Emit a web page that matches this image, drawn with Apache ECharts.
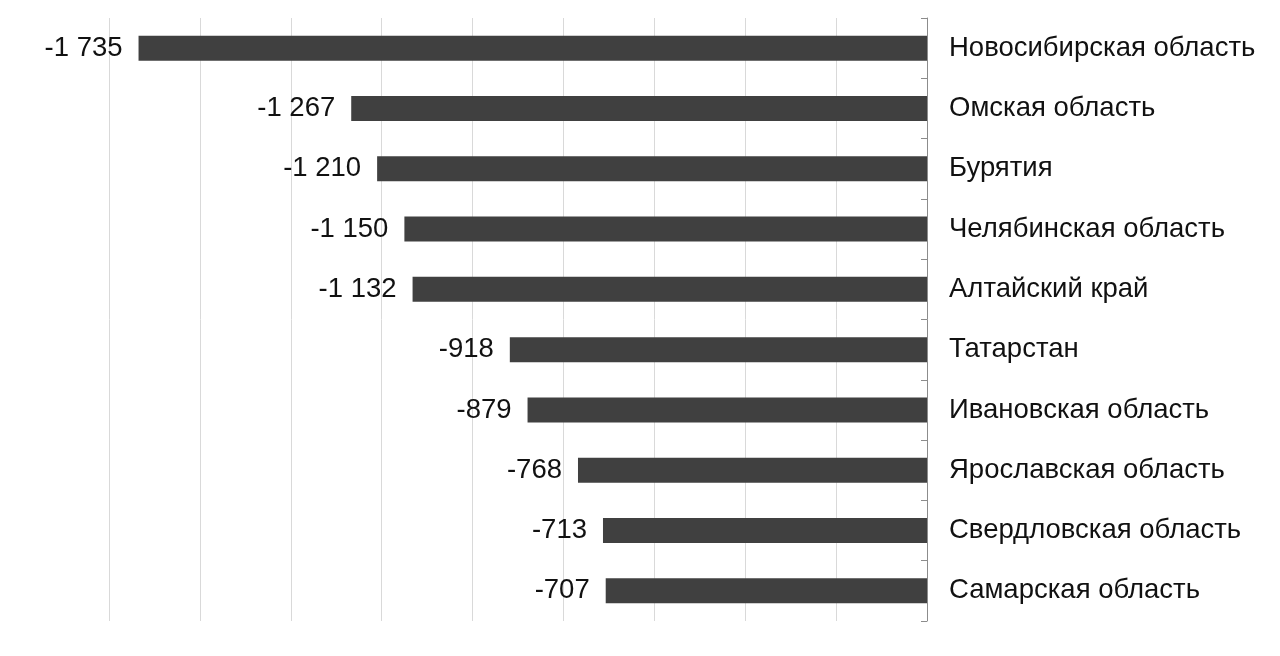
<!DOCTYPE html>
<html><head><meta charset="utf-8">
<script src="https://cdn.jsdelivr.net/npm/echarts@6/dist/echarts.min.js"></script>
<style>html,body{margin:0;padding:0;background:#fff}#c{width:1280px;height:656px}</style>
</head><body><div id="c"></div>
<script>
const categories = ["Новосибирская область","Омская область","Бурятия","Челябинская область","Алтайский край","Татарстан","Ивановская область","Ярославская область","Свердловская область","Самарская область"];
const values = [-1735,-1267,-1210,-1150,-1132,-918,-879,-768,-713,-707];
function fmt(v){const s=Math.abs(v).toString().replace(/\B(?=(\d{3})+(?!\d))/g,' ');return (v<0?'-':'')+s;}
const chart = echarts.init(document.getElementById('c'));
chart.setOption({
  animation:false,
  grid:{left:109,right:353,top:18,bottom:35,containLabel:false},
  xAxis:{type:'value',min:-1800,max:0,interval:200,
    axisLabel:{show:false},axisLine:{show:false},axisTick:{show:false},
    splitLine:{show:true,lineStyle:{color:'#d9d9d9',width:1}}},
  yAxis:{type:'category',data:categories,inverse:true,position:'right',
    axisLine:{show:true,lineStyle:{color:'#8c8c8c',width:1}},
    axisTick:{show:true,inside:true,length:6,lineStyle:{color:'#8c8c8c'}},
    axisLabel:{margin:22,color:'#111',fontFamily:'Liberation Sans, Arial, sans-serif',fontSize:27.5,align:'left',padding:[4,0,0,0]},
    splitLine:{show:false}},
  series:[{type:'bar',data:values,barWidth:25,
    itemStyle:{color:'#404040'},
    label:{show:true,position:'left',distance:16,color:'#111',fontFamily:'Liberation Sans, Arial, sans-serif',fontSize:27.5,
      formatter:p=>fmt(p.value)}}]
});
</script></body></html>
